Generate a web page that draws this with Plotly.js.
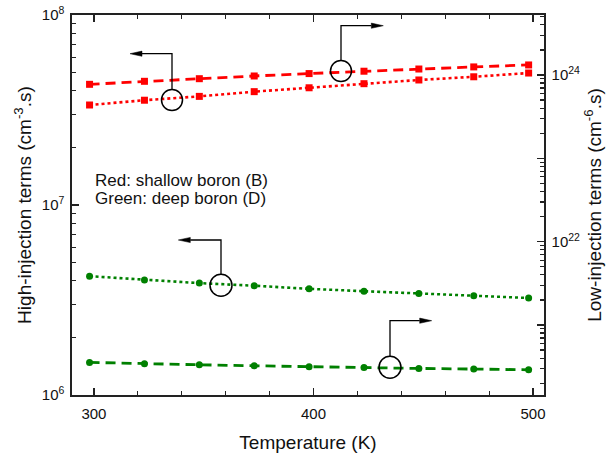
<!DOCTYPE html>
<html>
<head>
<meta charset="utf-8">
<script src="https://cdn.plot.ly/plotly-3.0.1.min.js"></script>
<style>html,body{margin:0;padding:0;background:#fff;}#chart{width:608px;height:456px;}</style>
</head>
<body>
<div id="chart"></div>
<script>
// ---- data ----
const temperature = [298, 323, 348, 373, 398, 423, 448, 473, 498];
// left axis: high-injection terms (cm^-3.s)
const redHighInj   = [3.36e7, 3.56e7, 3.73e7, 3.95e7, 4.14e7, 4.35e7, 4.55e7, 4.73e7, 4.95e7];
const greenHighInj = [4.22e6, 4.03e6, 3.88e6, 3.76e6, 3.62e6, 3.52e6, 3.42e6, 3.33e6, 3.24e6];
// right axis: low-injection terms (cm^-6.s)
const redLowInj    = [7.73e23, 8.40e23, 9.03e23, 9.73e23, 1.04e24, 1.11e24, 1.18e24, 1.25e24, 1.32e24];
const greenLowInj  = [3.56e20, 3.42e20, 3.33e20, 3.24e20, 3.15e20, 3.10e20, 3.01e20, 2.96e20, 2.90e20];

const xTickVals = [300, 400, 500];
const xMinorVals = [320, 340, 360, 380, 420, 440, 460, 480];
const yTickVals = [1e6, 1e7, 1e8];
const yTickText = ['10<sup>6</sup>', '10<sup>7</sup>', '10<sup>8</sup>'];
const y2TickVals = [1e21, 1e22, 1e23, 1e24];
const y2TickText = [' ', '10<sup>22</sup>', ' ', '10<sup>24</sup>'];

function minorLog(e0, e1, lo, hi) {
  const out = [];
  for (let e = e0; e <= e1; e++) for (let k = 2; k <= 9; k++) {
    const v = k * Math.pow(10, e);
    if (v > lo && v < hi) out.push(v);
  }
  return out;
}
const yMinorVals = minorLog(6, 7, 1e6, 1e8);
const y2Range = [20.16, 24.72];
const y2MinorVals = minorLog(20, 24, Math.pow(10, y2Range[0]), Math.pow(10, y2Range[1]));

const RED = '#ff0000', GREEN = '#008000';
const FONT = 'Liberation Sans, Arial, sans-serif';

const traces = [
  {x: temperature, y: redLowInj, yaxis: 'y2', mode: 'lines+markers',
   line: {color: RED, width: 2.8, dash: '10px,6px'}, marker: {symbol: 'square', size: 7, color: RED}},
  {x: temperature, y: redHighInj, yaxis: 'y', mode: 'lines+markers',
   line: {color: RED, width: 2.6, dash: 'dot'}, marker: {symbol: 'square', size: 7, color: RED}},
  {x: temperature, y: greenHighInj, yaxis: 'y', mode: 'lines+markers',
   line: {color: GREEN, width: 2.6, dash: 'dot'}, marker: {symbol: 'circle', size: 7, color: GREEN}},
  {x: temperature, y: greenLowInj, yaxis: 'y2', mode: 'lines+markers',
   line: {color: GREEN, width: 2.8, dash: '10px,6px'}, marker: {symbol: 'circle', size: 7, color: GREEN}}
];

// plot-area pixel helpers (decorations only)
const L = 72, R = 544, T = 15, B = 395;
const px = X => (X - L) / (R - L);
const py = Y => (B - Y) / (B - T);

const shapes = [];
function pointer(cx, cy, r, topY, tipX) {
  shapes.push({type: 'circle', xref: 'paper', yref: 'paper',
    x0: px(cx - r), x1: px(cx + r), y0: py(cy + r), y1: py(cy - r),
    line: {color: '#000', width: 1.5}});
  const dir = tipX > cx ? 1 : -1;
  const baseX = tipX - dir * 12;
  shapes.push({type: 'path', xref: 'paper', yref: 'paper',
    path: `M ${px(cx)} ${py(cy - r)} L ${px(cx)} ${py(topY)} L ${px(baseX)} ${py(topY)}`,
    line: {color: '#000', width: 1.3}});
  shapes.push({type: 'path', xref: 'paper', yref: 'paper',
    path: `M ${px(tipX)} ${py(topY)} L ${px(baseX)} ${py(topY - 2.6)} L ${px(baseX)} ${py(topY + 2.6)} Z`,
    fillcolor: '#000', line: {color: '#000', width: 0.5}});
}
pointer(172, 100, 10.5, 53.7, 130);
pointer(341, 71, 10.5, 25.7, 383.3);
pointer(221, 285.3, 11, 240, 178.3);
pointer(390, 367.3, 11, 320.7, 431.7);

const layout = {
  width: 608, height: 456,
  margin: {l: L, r: 608 - R, t: T, b: 456 - B, pad: 0},
  paper_bgcolor: '#fff', plot_bgcolor: '#fff',
  showlegend: false,
  font: {family: FONT, size: 15, color: '#111'},
  xaxis: {
    range: [290, 505], showgrid: false, zeroline: false,
    showline: true, linecolor: '#222', linewidth: 1.6, mirror: 'ticks',
    tickmode: 'array', tickvals: xTickVals, ticks: 'inside', ticklen: 7, tickwidth: 1.3, tickcolor: '#222',
    minor: {tickmode: 'array', tickvals: xMinorVals, ticks: 'inside', ticklen: 4, tickwidth: 1.2, tickcolor: '#222'},
    tickfont: {family: FONT, size: 15, color: '#111'},
    ticklabelstandoff: 4,
    title: {text: 'Temperature (K)', font: {family: FONT, size: 19, color: '#111'}, standoff: 15}
  },
  yaxis: {
    type: 'log', range: [6, 8], showgrid: false, zeroline: false,
    showline: true, linecolor: '#222', linewidth: 1.6,
    tickmode: 'array', tickvals: yTickVals, ticktext: yTickText,
    ticks: 'inside', ticklen: 7, tickwidth: 1.3, tickcolor: '#222',
    minor: {tickmode: 'array', tickvals: yMinorVals, ticks: 'inside', ticklen: 4, tickwidth: 1.2, tickcolor: '#222'},
    tickfont: {family: FONT, size: 15, color: '#111'},
    ticklabelstandoff: 3,
    title: {text: 'High-injection terms (cm<sup>-3</sup>.s)', font: {family: FONT, size: 19, color: '#111'}, standoff: 5}
  },
  yaxis2: {
    type: 'log', range: y2Range, overlaying: 'y', side: 'right',
    showgrid: false, zeroline: false, showline: true, linecolor: '#222', linewidth: 1.6,
    tickmode: 'array', tickvals: y2TickVals, ticktext: y2TickText,
    ticks: 'inside', ticklen: 7, tickwidth: 1.3, tickcolor: '#222',
    minor: {tickmode: 'array', tickvals: y2MinorVals, ticks: 'inside', ticklen: 4, tickwidth: 1.2, tickcolor: '#222'},
    tickfont: {family: FONT, size: 15, color: '#111'},
    ticklabelstandoff: 3,
    title: {text: 'Low-injection terms (cm<sup>-6</sup>.s)', font: {family: FONT, size: 19, color: '#111'}, standoff: 8}
  },
  shapes: shapes,
  annotations: [
    {xref: 'paper', yref: 'paper', x: px(92.7), y: py(180), xanchor: 'left', yanchor: 'middle',
     text: 'Red: shallow boron (B)', showarrow: false, font: {family: FONT, size: 17, color: '#111'}},
    {xref: 'paper', yref: 'paper', x: px(92.7), y: py(198.5), xanchor: 'left', yanchor: 'middle',
     text: 'Green: deep boron (D)', showarrow: false, font: {family: FONT, size: 17, color: '#111'}}
  ]
};

Plotly.newPlot('chart', traces, layout, {displayModeBar: false, staticPlot: true});
</script>
</body>
</html>
